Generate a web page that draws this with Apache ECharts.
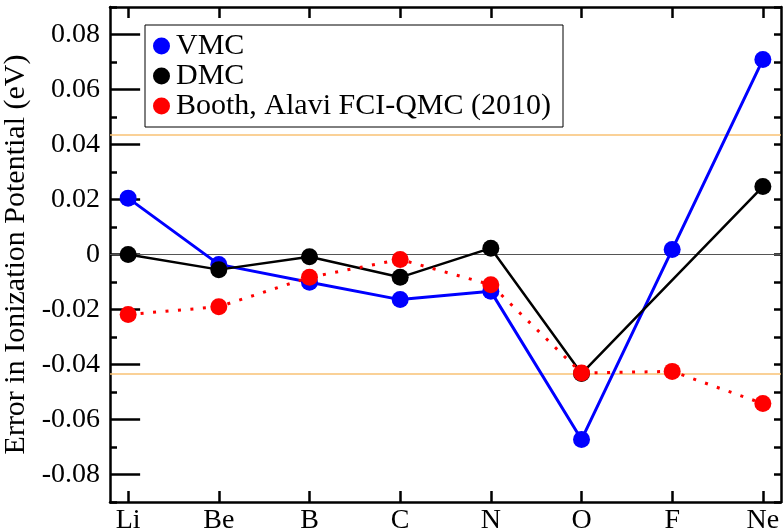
<!DOCTYPE html>
<html>
<head>
<meta charset="utf-8">
<script src="https://cdn.jsdelivr.net/npm/echarts@6/dist/echarts.min.js"></script>
<style>
  html, body { margin: 0; padding: 0; background: #fff; }
  #chart { width: 783px; height: 531px; }
</style>
</head>
<body>
<div id="chart"></div>
<script>
// atoms along x
const atoms = ['Li', 'Be', 'B', 'C', 'N', 'O', 'F', 'Ne'];
// error in ionization potential (eV)
const vmc = [0.0205, -0.0036, -0.0101, -0.0164, -0.0134, -0.0673, 0.0018, 0.0709];
const dmc = [0.0000, -0.0055, -0.0008, -0.0083, 0.0023, -0.0433, null, 0.0247];
const fciqmc = [-0.0218, -0.0190, -0.0083, -0.0018, -0.0110, -0.0431, -0.0425, -0.0542];
// y tick labels, chemical accuracy band
const yMajor = [-0.08, -0.06, -0.04, -0.02, 0, 0.02, 0.04, 0.06, 0.08];
const chemAcc = 0.0434;

const font = 'Liberation Serif';
const toPts = arr => arr.map((v, i) => [i, v]).filter(p => p[1] !== null);
const xIdx = atoms.map((a, i) => i);

const chart = echarts.init(document.getElementById('chart'));

const yBase = {
    type: 'value', min: -0.09, max: 0.09, interval: 0.01,
    splitLine: { show: false },
    axisLine: { show: true, onZero: false, lineStyle: { color: '#000', width: 2.5 } },
    axisTick: { show: true, inside: true, length: 7, lineStyle: { color: '#000', width: 2.5 } },
    axisLabel: { show: false }
};
const yMajorAxis = {
    type: 'value', min: -0.09, max: 0.09, interval: 0.01,
    splitLine: { show: false },
    axisLine: { show: false },
    axisTick: { show: true, inside: true, length: 12, customValues: yMajor, lineStyle: { color: '#000', width: 2.5 } },
    axisLabel: { show: false }
};
const xBase = {
    type: 'value', min: -0.2, max: 7.2,
    splitLine: { show: false },
    axisLine: { show: true, onZero: false, lineStyle: { color: '#000', width: 2.5 } },
    axisTick: { show: true, inside: true, length: 11, customValues: xIdx, lineStyle: { color: '#000', width: 2.5 } }
};

chart.setOption({
    animation: false,
    backgroundColor: '#fff',
    grid: { left: 110, right: 2, top: 7, bottom: 29, containLabel: false, outerBoundsMode: 'none' },
    legend: {
        left: 145, top: 25,
        orient: 'vertical',
        icon: 'circle',
        itemWidth: 17, itemHeight: 17, itemGap: 0,
        padding: [6, 12, 6, 8],
        borderColor: '#000', borderWidth: 1,
        textStyle: { fontFamily: font, fontSize: 30, color: '#000', lineHeight: 28, padding: [0, 0, 0, 1] },
        data: ['VMC', 'DMC', 'Booth, Alavi FCI-QMC (2010)']
    },
    xAxis: [
        Object.assign({}, xBase, {
            position: 'bottom',
            axisLabel: {
                show: true, customValues: xIdx, margin: 5,
                fontFamily: font, fontSize: 28, color: '#000',
                formatter: v => atoms[Math.round(v)]
            }
        }),
        Object.assign({}, xBase, { position: 'top', axisLabel: { show: false } })
    ],
    yAxis: [
        Object.assign({}, yBase, {
            position: 'left',
            name: 'Error in Ionization Potential (eV)',
            nameLocation: 'middle', nameGap: 75,
            nameTextStyle: { fontFamily: font, fontSize: 30, color: '#000' },
            axisLabel: {
                show: true, margin: 10, fontFamily: font, fontSize: 28, color: '#000',
                formatter: v => {
                    const r = Math.round(v * 100);
                    if (r % 2 !== 0 || Math.abs(r) > 8) return '';
                    return r === 0 ? '0' : (r / 100).toFixed(2);
                }
            }
        }),
        Object.assign({}, yMajorAxis, { position: 'left' }),
        Object.assign({}, yBase, { position: 'right' }),
        Object.assign({}, yMajorAxis, { position: 'right' })
    ],
    series: [
        {
            name: 'VMC', type: 'line', data: toPts(vmc),
            symbol: 'circle', symbolSize: 17, z: 3,
            itemStyle: { color: '#0000ff' },
            lineStyle: { color: '#0000ff', width: 3 },
            markLine: {
                silent: true, symbol: 'none', z: 1, precision: 6,
                label: { show: false },
                emphasis: { disabled: true },
                data: [
                    { yAxis: 0, lineStyle: { color: '#555555', width: 1.2, type: 'solid' } },
                    { yAxis: chemAcc, lineStyle: { color: '#f9c275', width: 1.5, type: 'solid' } },
                    { yAxis: -chemAcc, lineStyle: { color: '#f9c275', width: 1.5, type: 'solid' } }
                ]
            }
        },
        {
            name: 'DMC', type: 'line', data: toPts(dmc),
            symbol: 'circle', symbolSize: 17, z: 4,
            itemStyle: { color: '#000' },
            lineStyle: { color: '#000', width: 2.5 }
        },
        {
            name: 'Booth, Alavi FCI-QMC (2010)', type: 'line', data: toPts(fciqmc),
            symbol: 'circle', symbolSize: 17, z: 5,
            itemStyle: { color: '#ff0000' },
            lineStyle: { color: '#ff0000', width: 3, type: [3, 9.5] }
        }
    ]
});
</script>
</body>
</html>
